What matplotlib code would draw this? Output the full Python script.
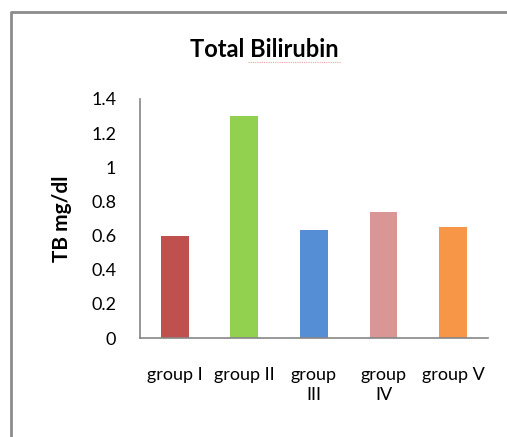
import matplotlib
matplotlib.use("Agg")
import matplotlib.pyplot as plt
from matplotlib.lines import Line2D

plt.rcParams['font.family'] = ['Lato', 'DejaVu Sans']

# data
groups = ["group I", "group II", "group\nIII", "group\nIV", "group V"]
tb_values = [0.60, 1.30, 0.63, 0.74, 0.65]
bar_colors = ["#C0504D", "#92D050", "#558ED5", "#D99694", "#F79646"]
y_ticks = [0, 0.2, 0.4, 0.6, 0.8, 1.0, 1.2, 1.4]
y_tick_labels = ["0", "0.2", "0.4", "0.6", "0.8", "1", "1.2", "1.4"]

fig = plt.figure(figsize=(5.07, 4.37), dpi=100)
ax = fig.add_axes([0.276, 0.2265, 0.6865, 0.547])

x = range(len(groups))
ax.bar(x, tb_values, width=0.4, color=bar_colors)

ax.set_xlim(-0.5, len(groups) - 0.5)
ax.set_ylim(0, 1.4)
ax.set_yticks(y_ticks)
ax.set_yticklabels(y_tick_labels, fontsize=13)
ax.set_xticks(list(x))
ax.set_xticklabels(groups, fontsize=13, linespacing=1.3, va='top')
ax.tick_params(length=0)
ax.tick_params(axis='y', pad=17)
ax.tick_params(axis='x', pad=21)

for side in ['top', 'right']:
    ax.spines[side].set_visible(False)
for side in ['left', 'bottom']:
    ax.spines[side].set_color('#868686')
    ax.spines[side].set_linewidth(1.2)

ax.set_ylabel("TB mg/dl", fontsize=15, fontweight='bold', labelpad=14)

fig.text(0.521, 0.886, "Total Bilirubin", ha='center', va='center',
         fontsize=17, fontweight='bold')
# spell-check squiggle under "Bilirubin"
fig.add_artist(Line2D([0.49, 0.672], [0.857, 0.857], color='#F2A0A0',
                      linewidth=0.8, linestyle=(0, (1, 1))))

# outer chart border (left and top only, the rest is cut off)
bx, by = 11 / 507, 1 - 12 / 437
fig.add_artist(Line2D([bx, bx, 1.05], [-0.05, by, by], color='#8C8C8C',
                      linewidth=2))

fig.savefig("out.png", dpi=100)
